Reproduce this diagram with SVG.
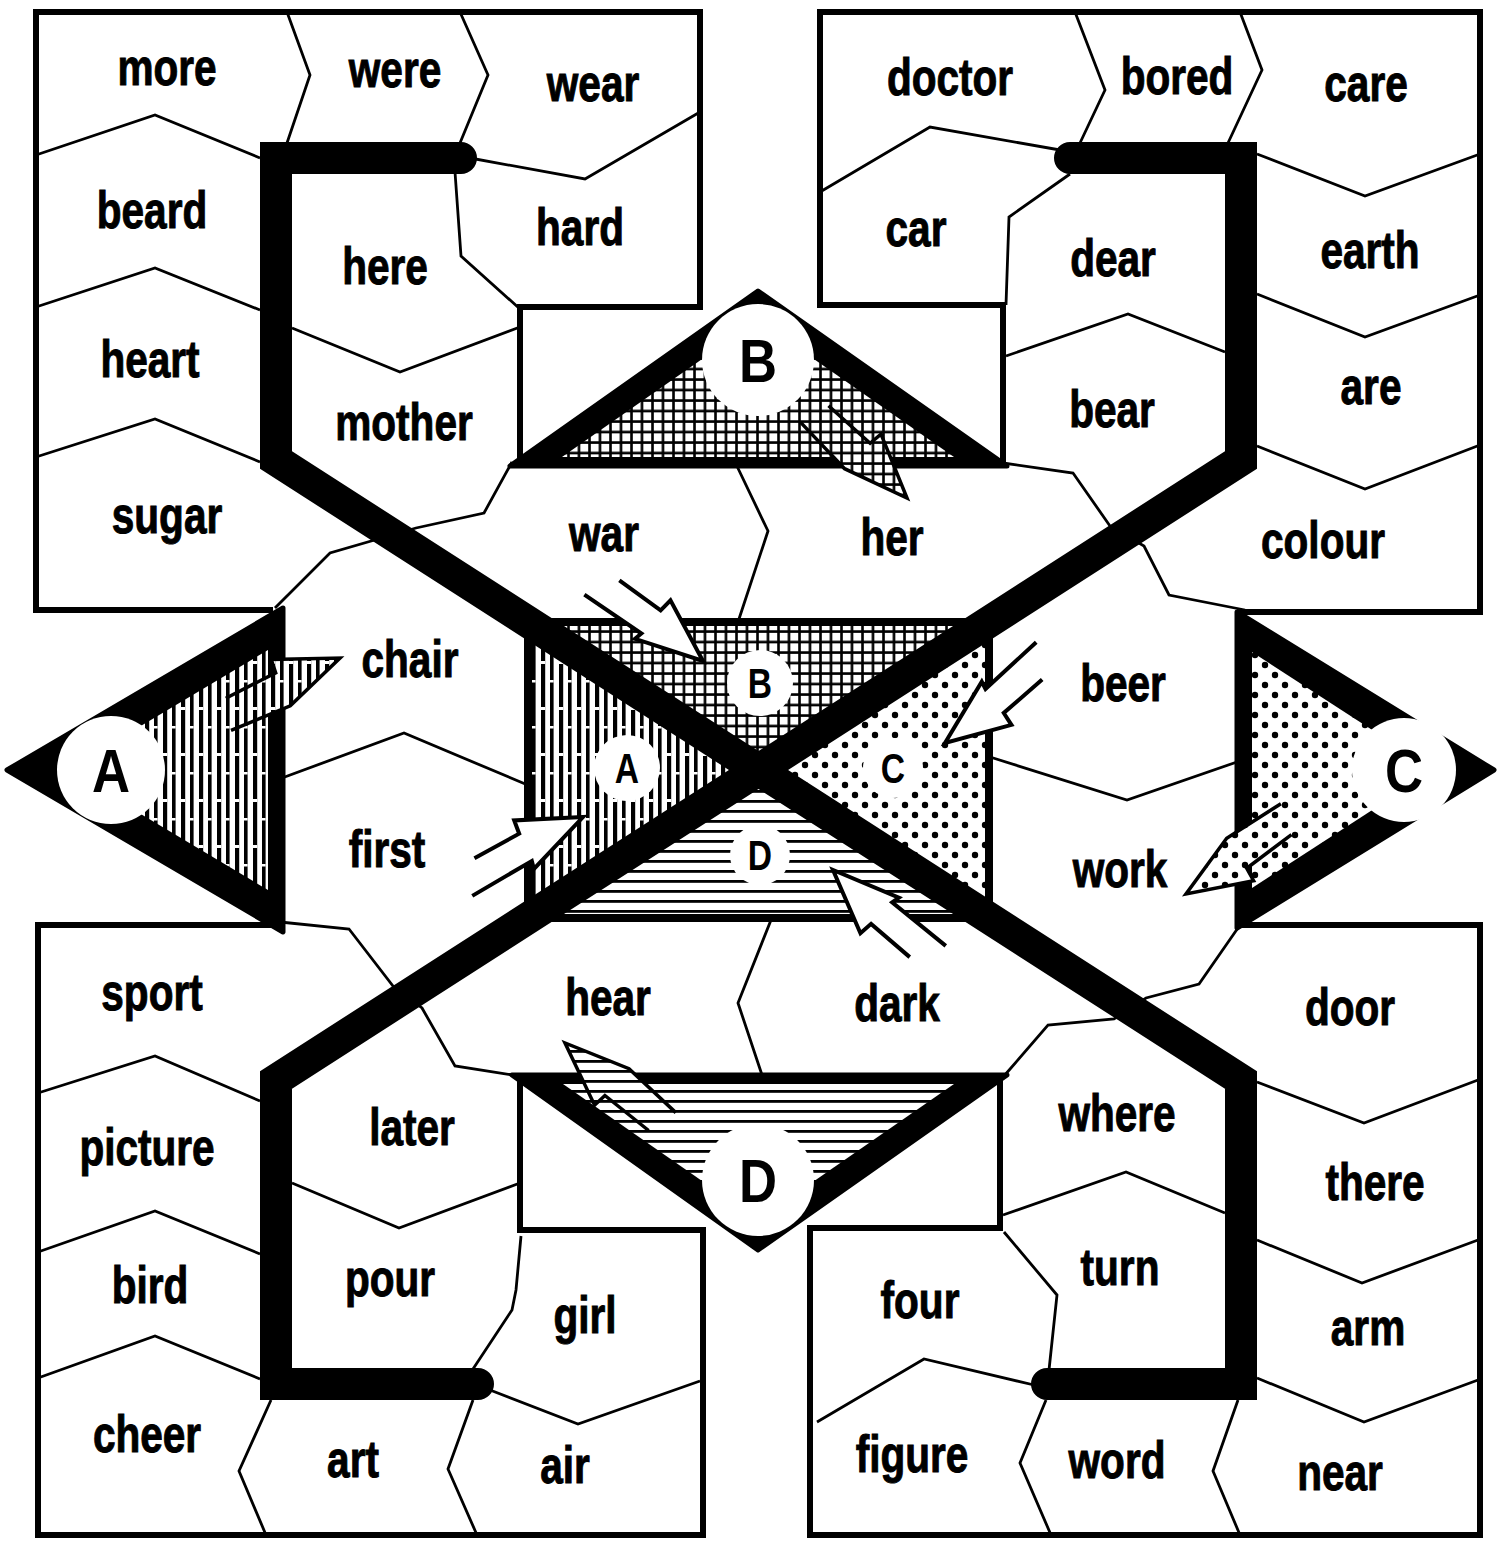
<svg xmlns="http://www.w3.org/2000/svg" width="1498" height="1542" viewBox="0 0 1498 1542">
<style>
.w{font-family:"Liberation Sans",Arial,sans-serif;font-weight:bold;font-size:52px;text-anchor:middle;fill:#000;stroke:#000;stroke-width:1px}
.L{font-family:"Liberation Sans",Arial,sans-serif;font-weight:bold;font-size:62px;text-anchor:middle;fill:#000}
.l{font-family:"Liberation Sans",Arial,sans-serif;font-weight:bold;font-size:42px;text-anchor:middle;fill:#000}
.thin{fill:none;stroke:#000;stroke-width:2.8;stroke-linejoin:miter}
.box{fill:none;stroke:#000;stroke-width:6;stroke-linejoin:miter;stroke-linecap:square}
.bar{fill:none;stroke:#000;stroke-width:32;stroke-linejoin:miter;stroke-linecap:round;stroke-miterlimit:10}
.tri{fill:#000;stroke:#000;stroke-width:5;stroke-linejoin:round}
.wc{fill:#fff}
.ao{fill:#fff;stroke:#000;stroke-width:4;stroke-linejoin:miter}
.as{fill:none;stroke:#000;stroke-width:3.5;stroke-linejoin:miter}
</style>
<defs>
<pattern id="xh" width="10.5" height="10.5" patternUnits="userSpaceOnUse"><rect width="10.5" height="10.5" fill="#fff"/><path d="M0 1.5H10.5M1.5 0V10.5" stroke="#000" stroke-width="2.6"/></pattern>
<pattern id="vs" width="18" height="46" patternUnits="userSpaceOnUse"><rect width="18" height="46" fill="#fff"/><rect x="1" y="0" width="4.2" height="46" fill="#000"/><rect x="10" y="0" width="3.6" height="46" fill="#000"/><rect x="1" y="17" width="4.2" height="3" fill="#fff"/><rect x="10" y="36" width="3.6" height="2.5" fill="#fff"/></pattern>
<pattern id="dt" width="20" height="20" patternUnits="userSpaceOnUse"><rect width="20" height="20" fill="#fff"/><circle cx="5" cy="5" r="3.2" fill="#000"/><circle cx="15" cy="15" r="3.2" fill="#000"/></pattern>
<pattern id="hl" width="20" height="10" patternUnits="userSpaceOnUse"><rect width="20" height="10" fill="#fff"/><rect y="0" width="20" height="2.8" fill="#000"/></pattern>
<path id="arr" d="M-115,-16 L-64,-16 L-62,-30 L0,0 L-68,22 L-66,14 L-135,16"/>
</defs>
<rect width="1498" height="1542" fill="#fff"/>

<g id="connectors">
<path class="thin" d="M287,12 L310,75 L287,143"/>
<path class="thin" d="M460,12 L488,75 L460,143"/>
<path class="thin" d="M36,155 L155,115 L260,158"/>
<path class="thin" d="M36,307 L155,268 L260,310"/>
<path class="thin" d="M36,457 L155,419 L260,462"/>
<path class="thin" d="M470,158 L585,179 L700,112"/>
<path class="thin" d="M455,172 L461,256 L520,309"/>
<path class="thin" d="M292,328 L400,372 L520,327"/>
<path class="thin" d="M512,462 L484,513 L416,528 L330,553 L275,608"/>
<path class="thin" d="M735,462 L768,531 L738,622"/>
<path class="thin" d="M1003,463 L1073,473 L1110,526 L1144,546 L1169,595 L1245,610"/>
<path class="thin" d="M282,778 L404,733 L530,786"/>
<path class="thin" d="M990,757 L1127,800 L1237,762"/>
<path class="thin" d="M280,922 L349,929 L393,986 L422,1008 L455,1066 L519,1076"/>
<path class="thin" d="M773,915 L738,1003 L763,1078"/>
<path class="thin" d="M1240,925 L1199,984 L1146,998 L1114,1019 L1048,1025 L1004,1076"/>
<path class="thin" d="M1075,12 L1105,90 L1080,143"/>
<path class="thin" d="M1240,12 L1262,70 L1228,143"/>
<path class="thin" d="M820,192 L930,127 L1060,150"/>
<path class="thin" d="M1070,174 L1009,217 L1006,305"/>
<path class="thin" d="M1006,356 L1128,314 L1225,352"/>
<path class="thin" d="M1257,154 L1365,196 L1480,154"/>
<path class="thin" d="M1257,294 L1365,337 L1480,295"/>
<path class="thin" d="M1257,446 L1365,489 L1480,445"/>
<path class="thin" d="M38,1093 L155,1056 L260,1101"/>
<path class="thin" d="M38,1252 L155,1211 L260,1254"/>
<path class="thin" d="M38,1378 L155,1336 L260,1379"/>
<path class="thin" d="M292,1183 L399,1228 L520,1183"/>
<path class="thin" d="M521,1236 L516,1290 L512,1310 L473,1369"/>
<path class="thin" d="M490,1390 L578,1424 L700,1381"/>
<path class="thin" d="M271,1400 L239,1471 L266,1535"/>
<path class="thin" d="M473,1400 L448,1469 L477,1535"/>
<path class="thin" d="M1257,1082 L1364,1123 L1478,1080"/>
<path class="thin" d="M1257,1240 L1362,1283 L1478,1240"/>
<path class="thin" d="M1257,1378 L1364,1422 L1478,1380"/>
<path class="thin" d="M1003,1215 L1126,1172 L1225,1213"/>
<path class="thin" d="M1004,1232 L1057,1295 L1049,1370"/>
<path class="thin" d="M817,1422 L924,1359 L1034,1385"/>
<path class="thin" d="M1046,1400 L1020,1463 L1051,1535"/>
<path class="thin" d="M1238,1400 L1213,1471 L1240,1535"/>
</g>

<g id="frames">
<path class="box" d="M270,610 L36,610 L36,12 L700,12 L700,307 L520,307 L520,462"/>
<path class="box" d="M1003,462 L1003,305 L820,305 L820,12 L1480,12 L1480,612 L1240,612"/>
<path class="box" d="M270,925 L38,925 L38,1535 L703,1535 L703,1230 L520,1230 L520,1078"/>
<path class="box" d="M1000,1078 L1000,1228 L810,1228 L810,1535 L1480,1535 L1480,925 L1240,925"/>
</g>

<g id="centre-box">
<polygon points="528,622 989,622 758.5,770" fill="url(#xh)"/>
<polygon points="528,622 528,918 758.5,770" fill="url(#vs)"/>
<polygon points="989,622 989,918 758.5,770" fill="url(#dt)"/>
<polygon points="528,918 989,918 758.5,770" fill="url(#hl)"/>
<rect x="528" y="622" width="461" height="296" fill="none" stroke="#000" stroke-width="8"/>
</g>

<g id="triangle-A">
<polygon class="tri" points="283,608 7,770 283,932"/>
<polygon points="268,650 67,770 268,890" fill="url(#vs)"/>
<polygon points="225.8,698.2 275.7,672.8 271.2,659.4 340,658 290.3,705.8 231,730.4" fill="url(#vs)"/>
<path class="as" d="M225.8,698.2 L275.7,672.8 L271.2,659.4 L340,658 L290.3,705.8 L231,730.4"/>
<circle class="wc" cx="111" cy="770" r="54"/>
<text class="L" transform="matrix(0.85 0 0 1 111 792)">A</text>
</g>

<g id="triangle-C">
<polygon class="tri" points="1237,612 1494,770 1237,928"/>
<polygon points="1252,652 1434,770 1252,888" fill="url(#dt)"/>
<polygon points="1291.5,834.6 1246.7,868.3 1253.6,880.7 1186,894 1226.7,838.3 1280.9,803.7" fill="url(#dt)"/>
<path class="as" d="M1291.5,834.6 L1246.7,868.3 L1253.6,880.7 L1186,894 L1226.7,838.3 L1280.9,803.7"/>
<circle class="wc" cx="1404" cy="770" r="52"/>
<text class="L" transform="matrix(0.85 0 0 1 1404 792)">C</text>
</g>

<g id="triangle-B">
<polygon class="tri" points="758,291 510,466 1007,466"/>
<polygon points="562,457 758,320 954,457" fill="url(#xh)"/>
<polygon points="828.5,405.8 870.1,443.3 881,434.2 907,498 844.6,468.7 800.4,422.1" fill="url(#xh)"/>
<path class="as" d="M828.5,405.8 L870.1,443.3 L881,434.2 L907,498 L844.6,468.7 L800.4,422.1"/>
<circle class="wc" cx="758" cy="360" r="56"/>
<text class="L" transform="matrix(0.85 0 0 1 758 382)">B</text>
</g>

<g id="triangle-D">
<polygon class="tri" points="512,1075 1007,1075 758,1250"/>
<polygon points="563,1084 954,1084 758,1220" fill="url(#hl)"/>
<polygon points="648.6,1130.5 604.9,1095.5 594.6,1105.2 565,1043 629,1068.7 675.8,1112.6" fill="url(#hl)"/>
<path class="as" d="M648.6,1130.5 L604.9,1095.5 L594.6,1105.2 L565,1043 L629,1068.7 L675.8,1112.6"/>
<circle class="wc" cx="758" cy="1180" r="56"/>
<text class="L" transform="matrix(0.85 0 0 1 758 1202)">D</text>
</g>

<g id="cross">
<path class="bar" d="M461,158 L276,158 L276,460 L1241,1080 L1241,1384 L1047,1384"/>
<path class="bar" d="M1070,158 L1241,158 L1241,460 L276,1080 L276,1384 L478,1384"/>
</g>

<g id="centre-labels">
<circle class="wc" cx="760" cy="683" r="33"/>
<text class="l" transform="matrix(0.8 0 0 1 760 698)">B</text>
<circle class="wc" cx="627" cy="768" r="33"/>
<text class="l" transform="matrix(0.8 0 0 1 627 783)">A</text>
<circle class="wc" cx="893" cy="768" r="30"/>
<text class="l" transform="matrix(0.8 0 0 1 893 783)">C</text>
<circle class="wc" cx="760" cy="855" r="30"/>
<text class="l" transform="matrix(0.8 0 0 1 760 870)">D</text>
</g>

<g id="arrows">
<use href="#arr" class="ao" transform="translate(703,661) rotate(36)"/>
<use href="#arr" class="ao" transform="translate(833,870) rotate(-139.3)"/>
<use href="#arr" class="ao" transform="translate(945,743) rotate(138.9)"/>
<use href="#arr" class="ao" transform="translate(583,817) rotate(-28.7)"/>
</g>

<g id="words">
<g id="n-more"><text class="w" transform="matrix(0.78 0 0 1 167 85)">more</text></g>
<g id="n-were"><text class="w" transform="matrix(0.78 0 0 1 395 87)">were</text></g>
<g id="n-wear"><text class="w" transform="matrix(0.78 0 0 1 593 101)">wear</text></g>
<g id="n-beard"><text class="w" transform="matrix(0.78 0 0 1 152 228)">beard</text></g>
<g id="n-hard"><text class="w" transform="matrix(0.78 0 0 1 580 245)">hard</text></g>
<g id="n-here"><text class="w" transform="matrix(0.78 0 0 1 385 284)">here</text></g>
<g id="n-heart"><text class="w" transform="matrix(0.78 0 0 1 150 377)">heart</text></g>
<g id="n-mother"><text class="w" transform="matrix(0.78 0 0 1 404 440)">mother</text></g>
<g id="n-sugar"><text class="w" transform="matrix(0.78 0 0 1 167 533)">sugar</text></g>
<g id="n-war"><text class="w" transform="matrix(0.78 0 0 1 604 551)">war</text></g>
<g id="n-her"><text class="w" transform="matrix(0.78 0 0 1 892 555)">her</text></g>
<g id="n-doctor"><text class="w" transform="matrix(0.78 0 0 1 950 95)">doctor</text></g>
<g id="n-bored"><text class="w" transform="matrix(0.78 0 0 1 1177 94)">bored</text></g>
<g id="n-care"><text class="w" transform="matrix(0.78 0 0 1 1366 101)">care</text></g>
<g id="n-car"><text class="w" transform="matrix(0.78 0 0 1 916 246)">car</text></g>
<g id="n-dear"><text class="w" transform="matrix(0.78 0 0 1 1113 276)">dear</text></g>
<g id="n-earth"><text class="w" transform="matrix(0.78 0 0 1 1370 268)">earth</text></g>
<g id="n-bear"><text class="w" transform="matrix(0.78 0 0 1 1112 427)">bear</text></g>
<g id="n-are"><text class="w" transform="matrix(0.78 0 0 1 1371 404)">are</text></g>
<g id="n-colour"><text class="w" transform="matrix(0.78 0 0 1 1323 558)">colour</text></g>
<g id="n-chair"><text class="w" transform="matrix(0.78 0 0 1 410 677)">chair</text></g>
<g id="n-beer"><text class="w" transform="matrix(0.78 0 0 1 1123 701)">beer</text></g>
<g id="n-first"><text class="w" transform="matrix(0.78 0 0 1 387 867)">first</text></g>
<g id="n-work"><text class="w" transform="matrix(0.78 0 0 1 1120 887)">work</text></g>
<g id="n-sport"><text class="w" transform="matrix(0.78 0 0 1 152 1010)">sport</text></g>
<g id="n-hear"><text class="w" transform="matrix(0.78 0 0 1 608 1015)">hear</text></g>
<g id="n-dark"><text class="w" transform="matrix(0.78 0 0 1 897 1021)">dark</text></g>
<g id="n-door"><text class="w" transform="matrix(0.78 0 0 1 1350 1025)">door</text></g>
<g id="n-where"><text class="w" transform="matrix(0.78 0 0 1 1117 1131)">where</text></g>
<g id="n-later"><text class="w" transform="matrix(0.78 0 0 1 412 1145)">later</text></g>
<g id="n-picture"><text class="w" transform="matrix(0.78 0 0 1 147 1165)">picture</text></g>
<g id="n-there"><text class="w" transform="matrix(0.78 0 0 1 1375 1200)">there</text></g>
<g id="n-turn"><text class="w" transform="matrix(0.78 0 0 1 1120 1285)">turn</text></g>
<g id="n-pour"><text class="w" transform="matrix(0.78 0 0 1 390 1296)">pour</text></g>
<g id="n-bird"><text class="w" transform="matrix(0.78 0 0 1 150 1303)">bird</text></g>
<g id="n-four"><text class="w" transform="matrix(0.78 0 0 1 920 1318)">four</text></g>
<g id="n-girl"><text class="w" transform="matrix(0.78 0 0 1 585 1333)">girl</text></g>
<g id="n-arm"><text class="w" transform="matrix(0.78 0 0 1 1368 1345)">arm</text></g>
<g id="n-cheer"><text class="w" transform="matrix(0.78 0 0 1 147 1452)">cheer</text></g>
<g id="n-art"><text class="w" transform="matrix(0.78 0 0 1 353 1477)">art</text></g>
<g id="n-figure"><text class="w" transform="matrix(0.78 0 0 1 912 1472)">figure</text></g>
<g id="n-word"><text class="w" transform="matrix(0.78 0 0 1 1117 1478)">word</text></g>
<g id="n-air"><text class="w" transform="matrix(0.78 0 0 1 565 1483)">air</text></g>
<g id="n-near"><text class="w" transform="matrix(0.78 0 0 1 1340 1490)">near</text></g>
</g>
</svg>
